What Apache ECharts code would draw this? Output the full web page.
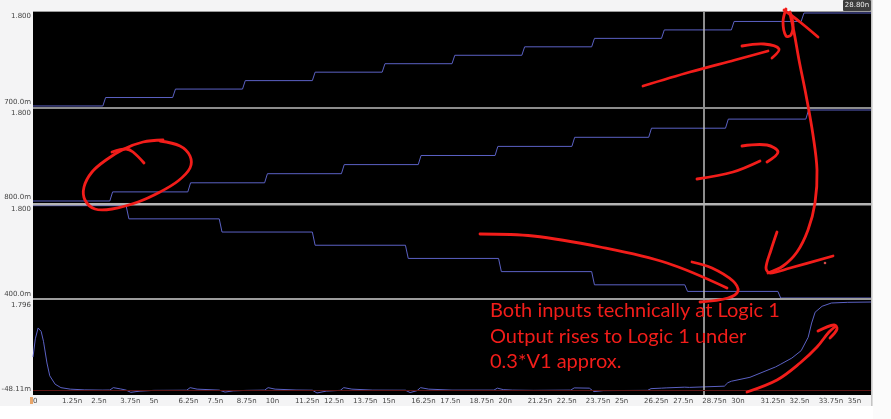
<!DOCTYPE html>
<html>
<head>
<meta charset="utf-8">
<script src="https://cdn.jsdelivr.net/npm/echarts@6/dist/echarts.min.js"></script>
<style>
html,body{margin:0;padding:0;background:#f4f4f5;}
#c{width:891px;height:419px;}
</style>
</head>
<body>
<div id="c"></div>
<script>
// ---------- data (time in ns, voltage in V) ----------
const xTicks = [0,1.25,2.5,3.75,5,6.25,7.5,8.75,10,11.25,12.5,13.75,15,16.25,17.5,18.75,20,21.25,22.5,23.75,25,26.25,27.5,28.75,30,31.25,32.5,33.75,35];
const cursorTime = 28.8;
const cursorLabel = '28.80n';

// panel 1: staircase 0.7 -> 1.8 V, +0.1 V every 3 ns
const wave1 = [[0,0.7],[3.0,0.7],[3.12,0.8],[6.0,0.8],[6.12,0.9],[9.0,0.9],[9.12,1.0],[12.0,1.0],[12.12,1.1],[15.0,1.1],[15.12,1.2],[18.0,1.2],[18.12,1.3],[21.0,1.3],[21.12,1.4],[24.0,1.4],[24.12,1.5],[27.0,1.5],[27.12,1.6],[30.0,1.6],[30.12,1.7],[33.0,1.7],[33.12,1.8],[36,1.8]];
// panel 2: staircase 0.8 -> 1.8 V, +0.1 V every ~3.3 ns
const wave2 = [[0,0.8],[3.3,0.8],[3.42,0.9],[6.65,0.9],[6.77,1.0],[9.95,1.0],[10.07,1.1],[13.25,1.1],[13.37,1.2],[16.55,1.2],[16.67,1.3],[19.85,1.3],[19.97,1.4],[23.15,1.4],[23.27,1.5],[26.45,1.5],[26.57,1.6],[29.75,1.6],[29.87,1.7],[33.2,1.7],[33.32,1.8],[36,1.8]];
// panel 3: staircase 1.8 -> 0.4 V every 4 ns
const wave3 = [[0,1.8],[4.0,1.8],[4.12,1.6],[8.0,1.6],[8.12,1.4],[12.0,1.4],[12.12,1.2],[16.0,1.2],[16.12,1.0],[20.0,1.0],[20.12,0.8],[24.0,0.8],[24.12,0.6],[28.0,0.6],[28.12,0.5],[32.0,0.5],[32.12,0.4],[36,0.4]];
// panel 4: output
const wave4 = [[0,0.68],[0.1,1.05],[0.22,1.27],[0.35,1.2],[0.45,1.0],[0.6,0.56],[0.72,0.3],[0.95,0.13],[1.2,0.06],[1.6,0.03],[2.2,0.015],[3.0,0.01],
  [3.3,0.012],[3.45,0.06],[3.75,0.035],[4.0,0.01],[4.2,-0.035],[4.6,-0.01],[5.2,0.005],[6.6,0.008],[6.75,0.06],[7.05,0.03],[8.0,0.01],[8.25,-0.03],[8.6,-0.005],[9.2,0.005],
  [9.95,0.01],[10.1,0.06],[10.4,0.03],[11.3,0.012],[12.0,0.008],[12.2,-0.048],[12.6,-0.01],[13.2,0.005],[13.35,0.06],[13.7,0.03],[14.6,0.01],[16.0,0.008],[16.2,-0.04],[16.5,0.0],
  [16.65,0.06],[17.0,0.03],[18.0,0.01],[19.8,0.01],[19.95,0.05],[20.2,0.02],[20.6,0.01],[21.5,0.005],[23.1,0.01],[23.25,0.055],[23.9,0.05],[24.1,-0.02],[24.5,0.0],
  [26.4,0.005],[26.55,0.04],[27.0,0.05],[27.2,0.055],[28.0,0.07],[28.2,0.065],[29.7,0.09],[29.85,0.16],[30.0,0.19],[30.8,0.27],[31.9,0.48],[32.1,0.53],[32.6,0.66],
  [33.0,0.81],[33.3,1.08],[33.45,1.37],[33.6,1.59],[33.9,1.71],[34.3,1.776],[35.0,1.79],[36,1.796]];

const yLabelValues = [[0.7,1.8],[0.8,1.8],[0.4,1.8],[-0.04811,1.796]];
const yRanges = [[0.676,1.812],[0.767,1.811],[0.385,1.81],[-0.089,1.837]];
const noteLines = ['Both inputs technically at Logic 1','Output rises to Logic 1 under','0.3*V1 approx.'];

// ---------- layout ----------
const waves = [wave1, wave2, wave3, wave4];
const gridTops = [12, 109, 205, 300];
const gridHeights = [96, 95, 94, 95];
const plotLeft = 33, plotWidth = 838;
const traceColor = '#5b61c4';
const red = '#f21d1a';

function fmtV(v){
  return Math.abs(v) < 1 ? (v*1000).toPrecision(4) + 'm' : v.toPrecision(4);
}
function fmtT(v){
  return v === 0 ? '0' : (+v.toFixed(2)) + 'n';
}

const grids = [], xAxes = [], yAxes = [], series = [];
for (let i = 0; i < 4; i++) {
  grids.push({left: plotLeft, top: gridTops[i], width: plotWidth, height: gridHeights[i],
    show: true, backgroundColor: '#000', borderWidth: 0, outerBoundsMode: 'none'});
  xAxes.push({type: 'value', gridIndex: i, min: 0, max: 36,
    axisLine: {show: false}, axisTick: {show: false}, splitLine: {show: false},
    axisLabel: {show: i === 3, customValues: xTicks, formatter: fmtT, fontSize: 7,
      fontFamily: 'DejaVu Sans', color: '#444', align: 'left', margin: 3, hideOverlap: false}});
  yAxes.push({type: 'value', gridIndex: i, min: yRanges[i][0], max: yRanges[i][1],
    axisLine: {show: false}, axisTick: {show: false}, splitLine: {show: false},
    axisLabel: {customValues: yLabelValues[i], formatter: fmtV, fontSize: 7,
      fontFamily: 'DejaVu Sans', color: '#444', margin: 2,
      verticalAlignMinLabel: 'bottom', verticalAlignMaxLabel: 'top'}});
  const ml = [{xAxis: cursorTime}];
  if (i === 3) ml.push({yAxis: 0, lineStyle: {color: '#5e1414', width: 1, type: 'solid'}});
  series.push({type: 'line', xAxisIndex: i, yAxisIndex: i, data: waves[i],
    showSymbol: false, symbol: 'none', animation: false,
    lineStyle: {color: traceColor, width: 1},
    markLine: {silent: true, symbol: 'none', animation: false, label: {show: false},
      lineStyle: {color: '#bdbdbd', width: 1.5, type: 'solid'}, data: ml}});
}

function stroke(points, w){
  return {type: 'polyline', z: 100, silent: true,
    shape: {points: points, smooth: 0.35},
    style: {stroke: red, lineWidth: w || 2.8, fill: null, lineCap: 'round', lineJoin: 'round'}};
}

const graphics = [
  {type:'rect', z:0, shape:{x:0,y:406,width:891,height:13}, style:{fill:'#ffffff'}},
  {type:'rect', z:0, shape:{x:873,y:0,width:18,height:419}, style:{fill:'#fbfbfb'}},
  {type:'rect', z:50, shape:{x:33,y:11,width:839,height:1}, style:{fill:'#9a9a9a'}},
  {type:'rect', z:50, shape:{x:33,y:107,width:839,height:2}, style:{fill:'#8c8c8c'}},
  {type:'rect', z:50, shape:{x:33,y:203,width:839,height:2.5}, style:{fill:'#b4b4b4'}},
  {type:'rect', z:50, shape:{x:33,y:298,width:839,height:2}, style:{fill:'#9c9c9c'}},
  {type:'rect', z:50, shape:{x:871,y:0,width:1.5,height:406}, style:{fill:'#c4c4c4'}},
  {type:'rect', z:50, shape:{x:30,y:397,width:3,height:7}, style:{fill:'#e9a66a'}},
  {type:'rect', z:60, shape:{x:843,y:0,width:28,height:11,r:1}, style:{fill:'#3d3d3d'}},
  {type:'text', z:61, x:857, y:5.5, style:{text: cursorLabel, fill:'#eeeeee', fontSize:7,
    fontFamily:'DejaVu Sans', align:'center', verticalAlign:'middle'}},
  // hand-drawn annotations
  stroke([[160,141],[180,146],[190,156],[190,168],[178,181],[160,192],[138,202],[112,209],[95,209],[85,200],[84,187],[92,172],[106,160],[124,149],[143,142],[163,140]]),
  stroke([[112,152],[126,149],[133,152],[144,163]]),
  stroke([[643,86],[690,72],[735,60],[768,51]]),
  stroke([[742,46],[764,44],[779,49],[772,58]]),
  stroke([[697,179],[733,172],[760,161]]),
  stroke([[742,146],[767,145],[778,152],[767,162]]),
  stroke([[790,14],[794,32],[799,60],[806,95],[813,135],[817,170],[815,203],[808,230],[797,252],[783,266],[768,273]]),
  stroke([[786,9],[783,22],[786,36],[791,35],[793,24],[790,12]]),
  stroke([[784,10],[800,22],[818,37]]),
  stroke([[777,232],[771,250],[766,268],[770,273],[790,268],[833,256]]),
  {type:'circle', z:100, shape:{cx:825,cy:263,r:1.3}, style:{fill:'#d04848'}},
  stroke([[480,234],[533,236],[600,247],[667,263],[727,288]]),
  stroke([[692,262],[712,268],[733,281],[738,291],[728,298],[700,302]]),
  stroke([[747,392],[777,380],[800,363],[817,347],[829,332],[836,326]]),
  stroke([[818,331],[834,325],[837,329],[830,338]])
];
const noteY = [311, 337, 362];
noteLines.forEach((t, k) => {
  graphics.push({type:'text', z:101, x:490, y:noteY[k], style:{text:t, fill:red, fontSize:20,
    fontFamily:'Lato', align:'left', verticalAlign:'middle'}});
});

const chart = echarts.init(document.getElementById('c'), null, {renderer: 'canvas'});
chart.setOption({
  animation: false,
  backgroundColor: '#f4f4f5',
  grid: grids, xAxis: xAxes, yAxis: yAxes, series: series,
  graphic: graphics
});
</script>
</body>
</html>
